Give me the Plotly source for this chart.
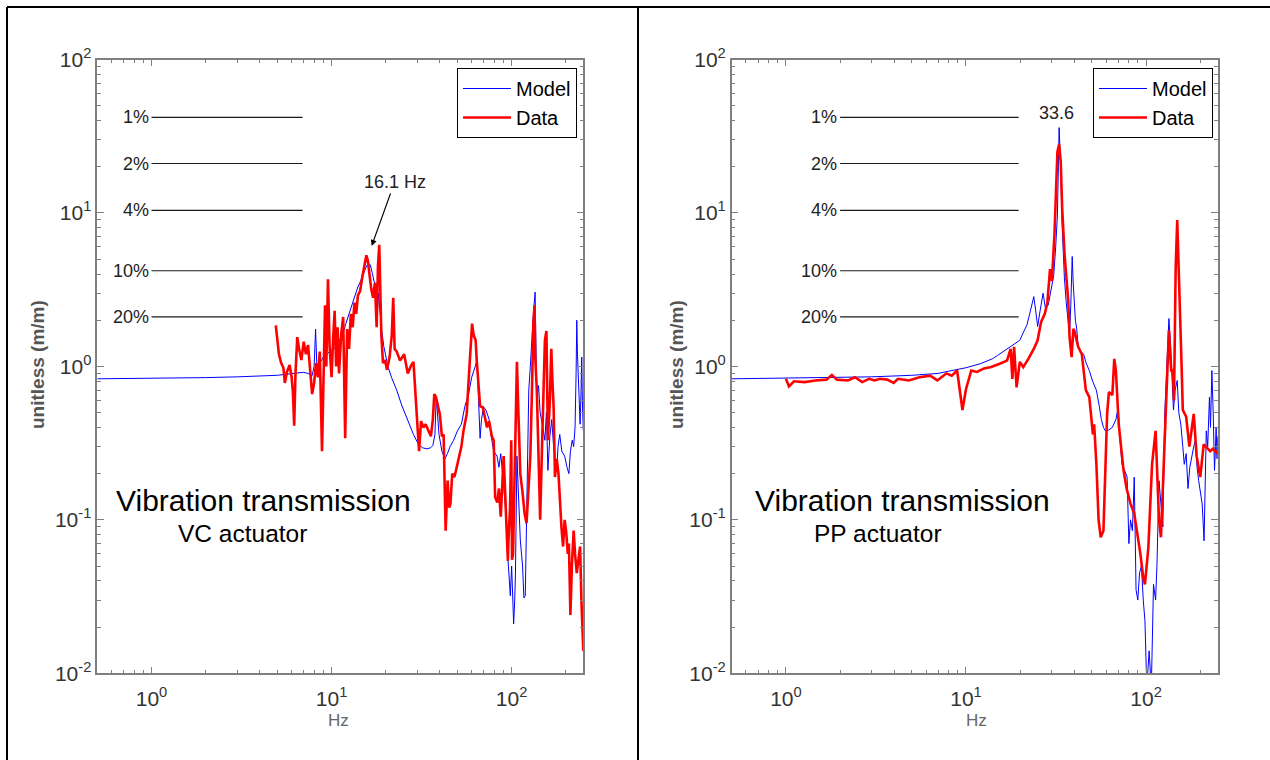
import math
import plotly.graph_objects as go

# ---------------- data ----------------
# Left panel: VC actuator  (frequency Hz, transmissibility m/m)
VC_MODEL = [
    (0.5, 0.83), (0.7, 0.833), (1.0, 0.835), (1.5, 0.84), (2.0, 0.845), (3.0, 0.855),
    (4.0, 0.865), (5.0, 0.875), (5.9, 0.895), (6.5, 0.91), (7.0, 0.915), (7.4, 0.90),
    (7.8, 0.87), (8.0, 1.0), (8.15, 1.75), (8.3, 0.95), (8.6, 1.05), (9.0, 1.15),
    (9.5, 1.22), (10.0, 1.28), (10.5, 1.32), (11.0, 1.45), (11.5, 1.6), (12.0, 1.9),
    (12.5, 2.2), (13.0, 2.6), (13.5, 3.0), (14.0, 3.3), (14.5, 3.6), (15.0, 4.0),
    (15.5, 4.4), (16.0, 4.7), (16.4, 4.6), (16.8, 4.1), (17.2, 3.6), (17.6, 3.4),
    (17.9, 2.0), (18.2, 3.0), (18.6, 2.2), (19.0, 1.7), (19.5, 1.35), (20.0, 1.15),
    (20.6, 0.99), (21.5, 0.85), (23.0, 0.70), (24.5, 0.56), (26.5, 0.44), (28.5, 0.36),
    (30.4, 0.31), (32.0, 0.295), (33.9, 0.29), (35.5, 0.295), (36.5, 0.305), (37.5, 0.36),
    (38.1, 0.64), (38.6, 0.5), (39.5, 0.36), (41.0, 0.28), (42.6, 0.25), (44.0, 0.27),
    (45.5, 0.30), (47.6, 0.33), (50.0, 0.38), (52.6, 0.42), (55.0, 0.55), (57.5, 0.65),
    (60.0, 0.85), (62.8, 1.0), (64.2, 1.1), (65.5, 0.6), (66.8, 0.34), (68.0, 0.45),
    (69.8, 0.545), (72.0, 0.52), (75.0, 0.45), (77.0, 0.35), (79.5, 0.28), (83.0, 0.26),
    (85.0, 0.22), (87.0, 0.27), (90.0, 0.18), (92.5, 0.12), (95.0, 0.06), (98.3, 0.032),
    (100.0, 0.05), (102.6, 0.021), (104.0, 0.03), (105.0, 0.045), (107.0, 0.26),
    (109.0, 0.15), (111.7, 0.074), (115.0, 0.05), (117.0, 0.031), (119.0, 0.032),
    (121.0, 0.12), (124.5, 0.7), (127.0, 1.0), (130.0, 1.7), (132.0, 2.2), (135.0, 3.05),
    (136.5, 1.5), (138.0, 0.6), (141.0, 0.75), (144.0, 0.5), (148.0, 0.42), (153.0, 0.33),
    (156.0, 0.5), (159.0, 0.21), (163.0, 0.35), (167.0, 0.45), (171.0, 0.3), (175.0, 0.24),
    (178.0, 0.21), (181.0, 0.3), (185.0, 0.36), (190.0, 0.28), (197.0, 0.26), (203.0, 0.22),
    (208.0, 0.2), (212.0, 0.28), (217.0, 0.33), (221.0, 0.30), (225.0, 0.40), (228.0, 0.9),
    (230.0, 2.0), (232.0, 1.2), (235.0, 0.8), (238.0, 0.5), (240.0, 0.42), (243.0, 0.7),
    (245.0, 1.15), (247.0, 0.6), (250.0, 0.38),
]
VC_DATA = [
    (4.9, 1.85), (5.0, 1.45), (5.1, 1.2), (5.25, 1.05), (5.4, 0.98), (5.5, 0.78),
    (5.65, 0.92), (5.85, 1.02), (6.0, 0.85), (6.1, 0.68), (6.2, 0.41), (6.3, 0.88),
    (6.45, 1.55), (6.6, 1.3), (6.8, 1.1), (7.0, 1.45), (7.2, 1.2), (7.4, 1.38),
    (7.6, 0.95), (7.8, 0.66), (8.0, 0.78), (8.2, 1.05), (8.4, 0.85), (8.6, 1.25),
    (8.85, 0.28), (9.0, 0.95), (9.2, 2.5), (9.35, 1.0), (9.55, 3.7), (9.75, 1.35),
    (10.0, 0.85), (10.2, 1.5), (10.4, 2.3), (10.6, 1.0), (10.8, 1.8), (11.0, 0.9),
    (11.3, 1.6), (11.6, 2.1), (11.9, 0.34), (12.2, 1.75), (12.5, 1.3), (12.8, 2.2),
    (13.1, 1.8), (13.4, 2.6), (13.7, 2.2), (14.0, 2.9), (14.4, 3.1), (14.8, 3.8),
    (15.2, 4.5), (15.6, 5.3), (15.9, 4.9), (16.2, 4.0), (16.6, 3.2), (17.0, 2.8),
    (17.4, 3.5), (17.8, 1.8), (18.1, 4.5), (18.4, 6.2), (18.6, 3.0), (18.9, 1.6),
    (19.3, 1.05), (19.8, 1.1), (20.3, 0.95), (21.0, 1.15), (21.6, 1.6), (22.0, 2.8),
    (22.4, 1.3), (23.0, 1.25), (24.0, 1.09), (25.3, 1.2), (26.5, 0.9), (27.5, 1.0),
    (28.5, 1.07), (29.0, 0.77), (30.0, 0.48), (30.6, 0.28), (31.4, 0.44), (32.4, 0.40),
    (33.3, 0.42), (34.5, 0.38), (35.6, 0.35), (36.5, 0.45), (37.2, 0.66), (38.0, 0.63),
    (39.0, 0.55), (39.9, 0.49), (41.0, 0.35), (41.9, 0.36), (43.0, 0.085), (44.1, 0.18),
    (45.0, 0.12), (45.7, 0.127), (46.8, 0.2), (48.0, 0.19), (49.1, 0.21), (51.0, 0.26),
    (52.6, 0.30), (54.0, 0.38), (56.3, 0.49), (57.5, 0.76), (58.9, 1.15), (60.3, 1.9),
    (61.5, 1.6), (63.1, 1.48), (64.0, 1.09), (65.4, 0.70), (66.8, 0.55), (69.2, 0.54),
    (71.0, 0.46), (73.0, 0.40), (75.0, 0.44), (77.6, 0.35), (79.5, 0.33), (81.0, 0.14),
    (83.3, 0.13), (85.0, 0.16), (87.0, 0.105), (88.8, 0.18), (90.3, 0.26), (93.0, 0.11),
    (95.3, 0.054), (96.0, 0.074), (98.0, 0.12), (99.5, 0.33), (100.5, 0.055), (101.8, 0.06),
    (103.0, 0.12), (105.0, 0.36), (107.0, 1.07), (109.0, 0.5), (111.7, 0.2), (115.0, 0.15),
    (118.0, 0.11), (121.0, 0.095), (124.0, 0.15), (127.0, 0.26), (130.0, 0.8), (132.0, 1.9),
    (134.0, 2.5), (135.0, 1.2), (138.0, 0.7), (141.0, 0.3), (144.0, 0.1), (148.0, 0.35),
    (153.0, 1.48), (156.0, 1.7), (159.0, 0.33), (163.0, 0.6), (166.0, 1.3), (168.5, 0.8),
    (171.0, 0.545), (174.0, 0.19), (178.0, 0.25), (182.0, 0.2), (185.0, 0.13), (189.0, 0.09),
    (193.0, 0.067), (197.0, 0.1), (201.0, 0.083), (205.0, 0.06), (208.0, 0.07), (212.0, 0.024),
    (216.0, 0.05), (221.0, 0.085), (225.0, 0.06), (230.0, 0.045), (235.0, 0.055),
    (240.0, 0.067), (244.0, 0.03), (247.0, 0.02), (249.0, 0.016), (250.0, 0.014),
]

# Right panel: PP actuator
PP_MODEL = [
    (0.5, 0.83), (1.0, 0.84), (2.0, 0.845), (3.0, 0.855), (5.0, 0.875), (7.0, 0.90),
    (8.0, 0.93), (10.0, 0.98), (12.0, 1.04), (14.0, 1.12), (15.0, 1.18), (16.5, 1.27),
    (18.0, 1.37), (19.9, 1.48), (21.0, 1.7), (21.8, 1.86), (22.8, 2.3), (23.8, 2.85),
    (24.4, 2.3), (25.0, 1.82), (25.8, 2.3), (26.8, 3.0), (27.6, 2.4), (28.6, 2.5),
    (29.6, 3.1), (30.7, 3.9), (31.5, 6.0), (32.2, 9.7), (32.6, 20.0), (32.9, 36.0),
    (33.3, 25.0), (33.7, 17.8), (34.1, 9.0), (34.5, 5.9), (35.2, 3.8), (36.0, 2.64),
    (37.0, 1.9), (37.6, 1.6), (38.2, 2.5), (38.9, 5.2), (39.4, 3.5), (39.8, 2.9),
    (40.5, 2.0), (41.2, 1.76), (42.0, 1.34), (43.5, 1.25), (45.0, 1.2), (46.5, 1.05),
    (48.4, 0.94), (50.5, 0.80), (53.0, 0.70), (55.0, 0.55), (56.5, 0.45), (58.0, 0.40),
    (59.5, 0.38), (62.0, 0.385), (65.0, 0.40), (68.0, 0.45), (70.0, 0.54), (71.5, 0.35),
    (73.5, 0.23), (76.0, 0.21), (78.5, 0.19), (80.3, 0.07), (82.0, 0.1), (84.0, 0.085),
    (86.0, 0.19), (88.0, 0.035), (90.0, 0.03), (92.0, 0.045), (94.3, 0.05), (96.5, 0.03),
    (98.6, 0.022), (101.0, 0.008), (104.0, 0.014), (107.0, 0.008), (110.0, 0.038),
    (113.0, 0.03), (115.0, 0.051), (118.0, 0.18), (121.0, 0.12), (124.0, 0.09),
    (127.0, 0.49), (131.0, 1.27), (134.0, 2.05), (137.0, 1.34), (142.0, 0.52), (145.0, 0.7),
    (149.0, 0.81), (152.0, 0.5), (156.0, 0.42), (160.0, 0.3), (163.0, 0.23), (167.0, 0.27),
    (171.0, 0.16), (175.0, 0.22), (179.0, 0.256), (184.0, 0.3), (188.0, 0.33), (192.0, 0.22),
    (196.0, 0.18), (200.0, 0.15), (205.0, 0.127), (210.0, 0.073), (213.0, 0.2), (216.0, 0.38),
    (220.0, 0.3), (225.0, 0.63), (228.0, 0.4), (232.0, 0.94), (236.0, 0.5), (240.0, 0.21),
    (243.0, 0.3), (245.0, 0.4), (248.0, 0.25), (250.0, 0.35),
]
PP_DATA = [
    (1.0, 0.83), (1.04, 0.74), (1.11, 0.80), (1.27, 0.79), (1.46, 0.81), (1.68, 0.82),
    (1.8, 0.88), (1.92, 0.82), (2.21, 0.81), (2.42, 0.85), (2.65, 0.79), (2.9, 0.83),
    (3.1, 0.81), (3.33, 0.83), (3.65, 0.82), (3.97, 0.78), (4.19, 0.83), (4.81, 0.81),
    (5.52, 0.85), (6.33, 0.87), (6.93, 0.81), (7.78, 0.90), (8.34, 0.87), (8.93, 0.94),
    (9.56, 0.52), (10.0, 0.71), (10.7, 0.94), (11.5, 0.92), (12.6, 0.97), (13.8, 0.99),
    (15.4, 1.04), (16.9, 1.09), (17.7, 1.30), (18.1, 0.83), (18.5, 1.34), (19.1, 0.73),
    (19.9, 1.07), (20.8, 0.99), (22.2, 1.12), (23.8, 1.30), (25.0, 1.48), (26.1, 1.94),
    (27.4, 2.2), (28.3, 2.6), (29.3, 4.3), (30.0, 3.6), (31.0, 7.2), (31.6, 12.0),
    (32.2, 25.0), (32.9, 28.0), (33.6, 21.5), (34.2, 10.8), (35.3, 5.3), (37.0, 2.65),
    (37.6, 1.55), (38.6, 1.15), (39.5, 1.76), (40.2, 1.67), (42.0, 1.34), (44.0, 1.2),
    (46.3, 0.70), (48.4, 0.63), (49.5, 0.49), (50.7, 0.36), (51.5, 0.42), (53.0, 0.23),
    (54.5, 0.10), (56.0, 0.077), (58.0, 0.085), (59.5, 0.21), (60.8, 0.49), (62.2, 0.68),
    (65.0, 0.65), (66.6, 1.12), (68.0, 0.94), (70.5, 0.42), (75.0, 0.21), (78.0, 0.16),
    (82.0, 0.127), (86.0, 0.11), (90.0, 0.08), (93.0, 0.06), (96.5, 0.042), (98.6, 0.038),
    (103.0, 0.066), (108.0, 0.23), (113.0, 0.38), (118.0, 0.10), (121.0, 0.077),
    (127.0, 0.38), (131.0, 1.0), (134.0, 1.72), (138.0, 0.94), (141.0, 0.94), (143.0, 0.6),
    (146.0, 4.3), (149.0, 9.0), (152.0, 4.3), (156.0, 2.05), (158.0, 0.9), (160.0, 0.52),
    (167.0, 0.47), (174.0, 0.30), (180.0, 0.4), (184.0, 0.49), (191.0, 0.26), (200.0, 0.19),
    (209.0, 0.31), (219.0, 0.29), (227.0, 0.28), (235.0, 0.29), (243.0, 0.28), (250.0, 0.27),
]

# damping reference lines (percent of critical) and their levels
DAMPING_LABELS = ["1%", "2%", "4%", "10%", "20%"]
DAMPING_LEVELS = [42.0, 21.0, 10.4, 4.2, 2.1]
VC_LINE_HZ = [1.0, 6.9]
PP_LINE_HZ = [2.0, 19.6]

VC_PEAK_HZ, VC_PEAK_T = 16.7, 6.1
PP_PEAK_HZ, PP_PEAK_T = 31.7, 45.0

X_TICKS = [1, 10, 100]
X_TICKTEXT = ["10<sup>0</sup>", "10<sup>1</sup>", "10<sup>2</sup>"]
Y_TICKS = [0.01, 0.1, 1, 10, 100]
Y_TICKTEXT = ["10<sup>-2</sup>", "10<sup>-1</sup>", "10<sup>0</sup>", "10<sup>1</sup>", "10<sup>2</sup>"]
X_RANGE = [0.5, 250]
Y_RANGE = [0.01, 100]

# ---------------- figure ----------------
W, H = 1270, 760
FONT = "Liberation Sans, Arial, sans-serif"
AXC = "#7f7f7f"
TICKC = "#333333"

fig = go.Figure()


def unzip(pairs):
    return [p[0] for p in pairs], [p[1] for p in pairs]


panels = [
    ("x", "y", VC_MODEL, VC_DATA, VC_LINE_HZ, "legend"),
    ("x2", "y2", PP_MODEL, PP_DATA, PP_LINE_HZ, "legend2"),
]

for xa, ya, model, data, line_hz, leg in panels:
    for lvl in DAMPING_LEVELS:
        fig.add_trace(go.Scatter(x=line_hz, y=[lvl, lvl], mode="lines",
                                 line=dict(color="#1a1a1a", width=1.2),
                                 xaxis=xa, yaxis=ya, showlegend=False, hoverinfo="skip"))
    mx, my = unzip(model)
    dx, dy = unzip(data)
    fig.add_trace(go.Scatter(x=mx, y=my, mode="lines", name="Model",
                             line=dict(color="#0000ff", width=1),
                             xaxis=xa, yaxis=ya, legend=leg))
    fig.add_trace(go.Scatter(x=dx, y=dy, mode="lines", name="Data",
                             line=dict(color="#ff0000", width=2.6),
                             xaxis=xa, yaxis=ya, legend=leg))

x_minor = [m * 10 ** e for e in range(-1, 3) for m in range(2, 10)]
y_minor = [m * 10 ** e for e in range(-2, 2) for m in range(2, 10)]

def xaxis_cfg(dom, anchor):
    return dict(type="log", domain=dom, anchor=anchor,
                range=[math.log10(X_RANGE[0]), math.log10(X_RANGE[1])],
                showline=True, linecolor=AXC, linewidth=1.5, mirror="allticks",
                ticks="inside", ticklen=7, tickcolor=AXC, tickwidth=1,
                tickmode="array", tickvals=X_TICKS, ticktext=X_TICKTEXT,
                tickfont=dict(family=FONT, size=21, color=TICKC),
                ticklabelstandoff=6,
                minor=dict(tickmode="array", tickvals=x_minor, ticks="inside",
                           ticklen=4, tickcolor=AXC, showgrid=False),
                showgrid=False, zeroline=False, automargin=False)

def yaxis_cfg(anchor):
    return dict(type="log", domain=[0.1141, 0.9217], anchor=anchor,
                range=[math.log10(Y_RANGE[0]), math.log10(Y_RANGE[1])],
                showline=True, linecolor=AXC, linewidth=1.5, mirror="allticks",
                ticks="inside", ticklen=7, tickcolor=AXC, tickwidth=1,
                tickmode="array", tickvals=Y_TICKS, ticktext=Y_TICKTEXT,
                tickfont=dict(family=FONT, size=21, color=TICKC),
                minor=dict(tickmode="array", tickvals=y_minor, ticks="inside",
                           ticklen=4, tickcolor=AXC, showgrid=False),
                showgrid=False, zeroline=False, automargin=False)

legend_common = dict(bgcolor="white", bordercolor="black", borderwidth=1,
                     font=dict(family=FONT, size=20, color="black"),
                     xanchor="right", yanchor="top", xref="paper", yref="paper",
                     tracegroupgap=0, itemwidth=48)

annotations = []
for xr, yr, line_hz in (("x", "y", VC_LINE_HZ), ("x2", "y2", PP_LINE_HZ)):
    for lab, lvl in zip(DAMPING_LABELS, DAMPING_LEVELS):
        annotations.append(dict(xref=xr, yref=yr, x=math.log10(line_hz[0]), y=math.log10(lvl),
                                text=lab, showarrow=False, xanchor="right", yanchor="middle",
                                xshift=-1,
                                font=dict(family=FONT, size=18, color="#222222")))

# titles inside plots
for xr, yr, sub, fx_main, fx_sub in (("x", "y", "VC actuator", 4.2, 3.22),
                                     ("x2", "y2", "PP actuator", 4.43, 3.24)):
    annotations.append(dict(xref=xr, yref=yr, x=math.log10(fx_main), y=math.log10(0.134),
                            text="Vibration transmission", showarrow=False,
                            xanchor="center", yanchor="middle",
                            font=dict(family=FONT, size=30, color="black")))
    annotations.append(dict(xref=xr, yref=yr, x=math.log10(fx_sub), y=math.log10(0.081),
                            text=sub, showarrow=False, xanchor="center", yanchor="middle",
                            font=dict(family=FONT, size=24.5, color="black")))

# peak annotations
annotations.append(dict(xref="x", yref="y", x=math.log10(VC_PEAK_HZ), y=math.log10(VC_PEAK_T),
                        text="16.1 Hz", showarrow=True, arrowhead=2, arrowsize=1,
                        arrowwidth=1.2, arrowcolor="black", ax=23, ay=-64,
                        font=dict(family=FONT, size=18, color="#222222")))
annotations.append(dict(xref="x2", yref="y2", x=math.log10(PP_PEAK_HZ), y=math.log10(PP_PEAK_T),
                        text="33.6", showarrow=False, xanchor="center", yanchor="middle",
                        font=dict(family=FONT, size=18, color="#222222")))

# axis titles
for xc in (37, 676):
    annotations.append(dict(xref="paper", yref="paper", x=xc / W, y=1 - 365 / H,
                            text="<b>unitless (m/m)</b>", textangle=-90, showarrow=False,
                            xanchor="center", yanchor="middle",
                            font=dict(family=FONT, size=19, color="#555555")))
for xc in (338, 976):
    annotations.append(dict(xref="paper", yref="paper", x=xc / W, y=1 - 720 / H,
                            text="Hz", showarrow=False, xanchor="center", yanchor="middle",
                            font=dict(family=FONT, size=17, color="#666666")))

shapes = [
    dict(type="line", xref="paper", yref="paper", x0=7 / W, x1=1, y0=1 - 7 / H, y1=1 - 7 / H,
         line=dict(color="black", width=2)),
    dict(type="line", xref="paper", yref="paper", x0=7 / W, x1=7 / W, y0=0, y1=1 - 7 / H,
         line=dict(color="black", width=2)),
    dict(type="line", xref="paper", yref="paper", x0=638 / W, x1=638 / W, y0=0, y1=1 - 7 / H,
         line=dict(color="black", width=2)),
]

fig.update_layout(
    width=W, height=H, margin=dict(l=0, r=0, t=0, b=0, pad=0, autoexpand=False),
    paper_bgcolor="white", plot_bgcolor="white",
    font=dict(family=FONT),
    xaxis=xaxis_cfg([97.3 / W, 583.3 / W], "y"),
    yaxis=yaxis_cfg("x"),
    xaxis2=xaxis_cfg([731.7 / W, 1217.7 / W], "y2"),
    yaxis2=yaxis_cfg("x2"),
    legend=dict(x=577 / W, y=1 - 68 / H, **legend_common),
    legend2=dict(x=1213 / W, y=1 - 68 / H, **legend_common),
    annotations=annotations,
    shapes=shapes,
    showlegend=True,
)

fig.write_html("out.html")
